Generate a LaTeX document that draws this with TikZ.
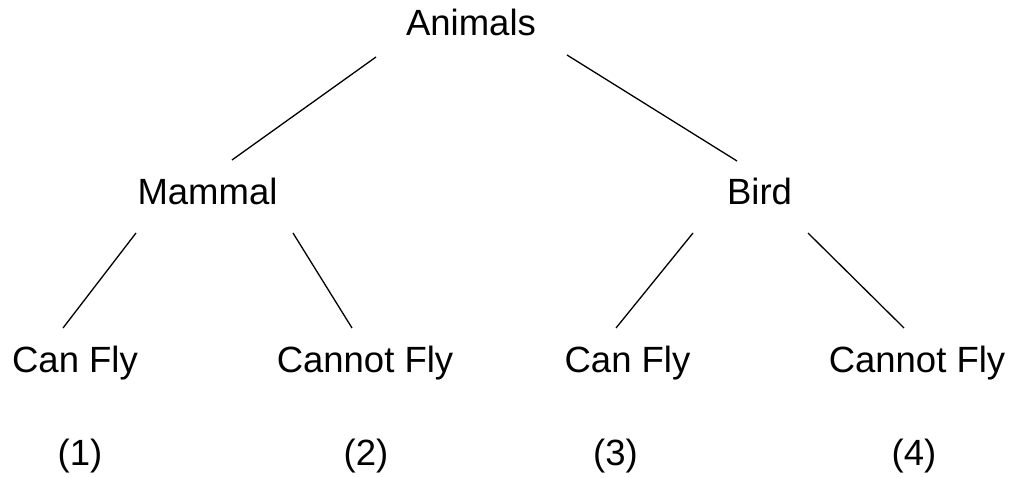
\documentclass[tikz,border=0pt]{standalone}
\usepackage{fontspec}
\setmainfont{Liberation Sans}
\usetikzlibrary{calc}
\begin{document}
\begin{tikzpicture}[x=1pt,y=-1pt,
  lbl/.style={anchor=base,inner sep=0pt,font=\fontsize{36.5}{40}\selectfont},
  edge/.style={line width=1.3pt,black}]
\useasboundingbox (0,0) rectangle (1013,478);
\node[lbl] (a) at (471,36) {Animals};
\node[lbl] (m) at (207.5,205) {Mammal};
\node[lbl] (b) at (759.5,205) {Bird};
\node[lbl] (c1) at (75,373) {Can Fly};
\node[lbl] (c2) at (365,373) {Cannot Fly};
\node[lbl] (c3) at (627.5,373) {Can Fly};
\node[lbl] (c4) at (917,373) {Cannot Fly};
\node[lbl] (n1) at (80,465) {(1)};
\node[lbl] (n2) at (366,465) {(2)};
\node[lbl] (n3) at (615.5,465) {(3)};
\node[lbl] (n4) at (914,465) {(4)};
\draw[edge] ($(a.base)+(-95,21)$) -- ($(m.base)+(24.5,-45)$);
\draw[edge] ($(a.base)+(96,19)$) -- ($(b.base)+(-22.5,-44)$);
\draw[edge] ($(m.base)+(-71.5,28)$) -- ($(c1.base)+(-12,-45)$);
\draw[edge] ($(m.base)+(85.5,28)$) -- ($(c2.base)+(-13,-45)$);
\draw[edge] ($(b.base)+(-66.5,28)$) -- ($(c3.base)+(-11.5,-45)$);
\draw[edge] ($(b.base)+(48.5,28)$) -- ($(c4.base)+(-13,-45)$);
\end{tikzpicture}
\end{document}
